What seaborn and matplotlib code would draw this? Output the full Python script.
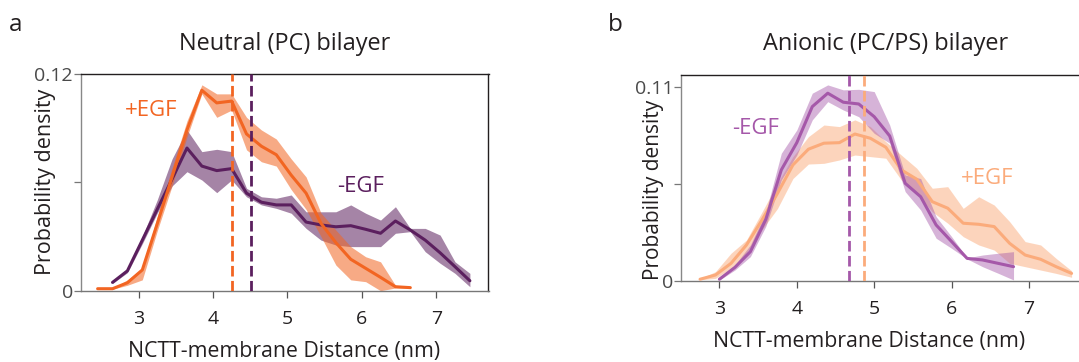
import numpy as np
import pandas as pd
import matplotlib
matplotlib.use("Agg")
import matplotlib.pyplot as plt
import seaborn as sns

# ---------------- data ----------------
# Panel a: Neutral (PC) bilayer
a_plus_x = [2.45, 2.65, 2.85, 3.05, 3.25, 3.45, 3.65, 3.85, 4.05, 4.25, 4.45,
            4.65, 4.85, 5.05, 5.25, 5.45, 5.65, 5.85, 6.05, 6.25, 6.45, 6.65]
a_plus_mean = [0.0011, 0.0011, 0.0044, 0.0115, 0.037, 0.063, 0.089, 0.111, 0.104, 0.105, 0.0868,
               0.080, 0.0753, 0.064, 0.054, 0.0373, 0.0266, 0.0174, 0.0124, 0.0074, 0.0022, 0.0017]
a_plus_lo = [0.0008, 0.0008, 0.003, 0.006, 0.033, 0.058, 0.085, 0.109, 0.096, 0.100, 0.078,
             0.0714, 0.069, 0.056, 0.045, 0.030, 0.0142, 0.006, 0.005, 0.0, 0.0015, 0.0012]
a_plus_hi = [0.0014, 0.0014, 0.006, 0.0124, 0.041, 0.068, 0.094, 0.114, 0.109, 0.109, 0.096,
             0.089, 0.084, 0.073, 0.063, 0.043, 0.0336, 0.0244, 0.0188, 0.016, 0.003, 0.0022]

a_minus_x = [2.65, 2.85, 3.05, 3.25, 3.45, 3.65, 3.85, 4.05, 4.25, 4.45, 4.65, 4.85, 5.05,
             5.25, 5.45, 5.65, 5.85, 6.05, 6.25, 6.45, 6.65, 6.85, 7.05, 7.25, 7.45]
a_minus_mean = [0.0046, 0.011, 0.028, 0.045, 0.0618, 0.079, 0.069, 0.0665, 0.0676, 0.054, 0.049, 0.0475, 0.0475,
                0.038, 0.0364, 0.0354, 0.036, 0.034, 0.0318, 0.0386, 0.0336, 0.028, 0.021, 0.0133, 0.0055]
a_minus_lo = [0.0040, 0.0100, 0.026, 0.0429, 0.058, 0.0659, 0.0613, 0.0543, 0.0613, 0.052, 0.0475, 0.0456, 0.0429,
              0.0345, 0.028, 0.0253, 0.0244, 0.0244, 0.0244, 0.0318, 0.0327, 0.0216, 0.0152, 0.0096, 0.0022]
a_minus_hi = [0.0052, 0.0120, 0.030, 0.0502, 0.073, 0.089, 0.077, 0.0783, 0.077, 0.0567, 0.052, 0.0512, 0.053,
              0.0437, 0.0437, 0.0437, 0.0475, 0.0429, 0.0391, 0.0465, 0.0345, 0.0345, 0.0308, 0.016, 0.0096]
a_plus_median = 4.26
a_minus_median = 4.51

# Panel b: Anionic (PC/PS) bilayer
b_plus_x = [2.75, 2.95, 3.15, 3.35, 3.55, 3.75, 3.95, 4.15, 4.35, 4.55, 4.75, 4.95, 5.15,
            5.35, 5.55, 5.75, 5.95, 6.15, 6.35, 6.55, 6.75, 6.95, 7.15, 7.35, 7.55]
b_plus_mean = [0.001, 0.0034, 0.010, 0.0204, 0.0345, 0.0496, 0.0657, 0.0746, 0.078, 0.0783, 0.0832, 0.0808, 0.0757,
               0.0629, 0.0576, 0.0449, 0.0412, 0.0327, 0.0321, 0.0308, 0.0213, 0.0147, 0.0123, 0.0081, 0.0043]
b_plus_lo = [0.0007, 0.0015, 0.0072, 0.0157, 0.029, 0.041, 0.058, 0.0662, 0.0666, 0.0685, 0.0713, 0.0704, 0.0695,
             0.0572, 0.0496, 0.0392, 0.0327, 0.0251, 0.0204, 0.0175, 0.010, 0.0081, 0.0062, 0.0043, 0.0021]
b_plus_hi = [0.0013, 0.0053, 0.0157, 0.0232, 0.039, 0.0553, 0.0704, 0.0817, 0.0883, 0.0874, 0.0912, 0.0874, 0.0789,
             0.0713, 0.0638, 0.0525, 0.0534, 0.0411, 0.0477, 0.043, 0.0336, 0.0223, 0.0204, 0.0128, 0.0058]

b_minus_x = [3.0, 3.2, 3.4, 3.6, 3.8, 4.0, 4.2, 4.4, 4.6, 4.8, 5.0, 5.2, 5.4, 5.6, 5.8, 6.0, 6.2, 6.4, 6.6, 6.8]
b_minus_mean = [0.001, 0.0077, 0.0166, 0.0349, 0.0629, 0.0783, 0.0987, 0.1063, 0.1012, 0.1002,
                0.093, 0.0821, 0.0553, 0.0477, 0.0317, 0.0223, 0.0128, 0.0119, 0.010, 0.0081]
b_minus_lo = [0.0005, 0.0062, 0.0138, 0.031, 0.0572, 0.0713, 0.0912, 0.1015, 0.0968, 0.093,
              0.0836, 0.078, 0.0506, 0.0402, 0.0242, 0.0185, 0.0125, 0.0081, 0.0044, 0.0006]
b_minus_hi = [0.0015, 0.0091, 0.0204, 0.039, 0.0723, 0.0855, 0.1063, 0.111, 0.1082, 0.1085,
              0.1072, 0.0883, 0.060, 0.058, 0.0364, 0.0251, 0.0131, 0.0147, 0.0157, 0.0166]
b_minus_median = 4.676
b_plus_median = 4.874

x_ticks = [3, 4, 5, 6, 7]
a_yticks = [0, 0.06, 0.12]
a_ylabels = ["0", "", "0.12"]
b_yticks = [0, 0.055, 0.11]
b_ylabels = ["0", "", "0.11"]

# ---------------- style ----------------
sns.set_theme(style="white")
FONT = ["Open Sans", "DejaVu Sans"]
plt.rcParams["font.family"] = FONT
TXT = "#231f20"

C_A_PLUS = "#f26522"
C_A_MINUS = "#5b1f5e"
C_B_PLUS = "#fbab7b"
C_B_MINUS = "#a558a9"

fig = plt.figure(figsize=(10.79, 3.62), dpi=100)
W, H = 1079.0, 362.0
ax_a = fig.add_axes([80.5 / W, 1 - 290.7 / H, 408 / W, 216.7 / H])
ax_b = fig.add_axes([680.7 / W, 1 - 281 / H, 402.5 / W, 206 / H])


def draw(ax, x, mean, lo, hi, line_c, band_c, band_alpha, lw, label):
    df = pd.DataFrame({"x": x, "y": mean})
    ax.fill_between(x, lo, hi, color=band_c, alpha=band_alpha, linewidth=0, zorder=1)
    sns.lineplot(data=df, x="x", y="y", ax=ax, color=line_c, linewidth=lw,
                 label=label, legend=False, zorder=3)


draw(ax_a, a_minus_x, a_minus_mean, a_minus_lo, a_minus_hi, C_A_MINUS, C_A_MINUS, 0.55, 2.2, "-EGF")
draw(ax_a, a_plus_x, a_plus_mean, a_plus_lo, a_plus_hi, C_A_PLUS, C_A_PLUS, 0.55, 2.2, "+EGF")
ax_a.axvline(a_plus_median, color=C_A_PLUS, lw=2.0, ls=(0, (3.8, 1.6)), zorder=4)
ax_a.axvline(a_minus_median, color=C_A_MINUS, lw=2.0, ls=(0, (3.8, 1.6)), zorder=4)

draw(ax_b, b_plus_x, b_plus_mean, b_plus_lo, b_plus_hi, C_B_PLUS, C_B_PLUS, 0.5, 2.2, "+EGF")
draw(ax_b, b_minus_x, b_minus_mean, b_minus_lo, b_minus_hi, C_B_MINUS, C_B_MINUS, 0.45, 2.2, "-EGF")
ax_b.axvline(b_minus_median, color=C_B_MINUS, lw=2.0, ls=(0, (3.8, 1.6)), zorder=4)
ax_b.axvline(b_plus_median, color=C_B_PLUS, lw=2.0, ls=(0, (3.8, 1.6)), zorder=4)

ax_a.set_xlim(2.22, 7.70)
ax_a.set_ylim(0, 0.12)
ax_b.set_xlim(2.50, 7.70)
ax_b.set_ylim(0, 0.1166)

FS_TICK = 14
FS_XLAB = 15.3
for ax, yt, yl in [(ax_a, a_yticks, a_ylabels), (ax_b, b_yticks, b_ylabels)]:
    ax.set_xticks(x_ticks)
    ax.set_xticklabels([str(t) for t in x_ticks])
    ax.set_yticks(yt)
    ax.set_yticklabels(yl)
    ax.tick_params(axis="both", which="major", direction="out", length=5, width=0.9,
                   labelsize=FS_TICK, bottom=True, left=True)
    ax.tick_params(axis="x", pad=9, colors="#555555", labelcolor=TXT)
    ax.tick_params(axis="y", pad=0.5, colors="#777777", labelcolor="#4a4a4a")
    for s in ["top", "right"]:
        ax.spines[s].set_color(TXT)
        ax.spines[s].set_linewidth(1.0)
    ax.spines["left"].set_color("#888888")
    ax.spines["bottom"].set_color("#777777")
    ax.spines["left"].set_linewidth(1.0)
    ax.spines["bottom"].set_linewidth(1.0)
    ax.set_xlabel("NCTT-membrane Distance (nm)", fontsize=FS_XLAB, color=TXT)
    ax.yaxis.label.set_va("center")
    ax.xaxis.label.set_va("center")
    ax.grid(False)

ax_a.set_ylabel("Probability density", fontsize=15.5, color=TXT)
ax_b.set_ylabel("Probability density", fontsize=15.0, color=TXT)
for ax in (ax_a, ax_b):
    ax.yaxis.label.set_va("center")

ax_a.xaxis.set_label_coords(0.5, (290.7 - 352) / 216.7)
ax_a.yaxis.set_label_coords((46 - 80.5) / 408, 0.5)
ax_b.xaxis.set_label_coords((869 - 680.7) / 402.5, (281 - 341.7) / 206)
ax_b.yaxis.set_label_coords((653.5 - 680.7) / 402.5, (281 - 190) / 206)

# series labels
ax_a.text(3.17, 0.0998, "+EGF", color=C_A_PLUS, fontsize=16, ha="center", va="center")
ax_a.text(5.975, 0.0577, "-EGF", color=C_A_MINUS, fontsize=16, ha="center", va="center")
ax_b.text(3.47, 0.0865, "-EGF", color=C_B_MINUS, fontsize=16, ha="center", va="center")
ax_b.text(6.46, 0.0578, "+EGF", color=C_B_PLUS, fontsize=16, ha="center", va="center")

# titles and panel letters
fig.text(284.5 / W, 1 - 50 / H, "Neutral (PC) bilayer", fontsize=16.9, color=TXT,
         ha="center", va="baseline")
fig.text(886 / W, 1 - 50 / H, "Anionic (PC/PS) bilayer", fontsize=16.9, color=TXT,
         ha="center", va="baseline")
fig.text(15.5 / W, 1 - 25 / H, "a", fontsize=17.5, color=TXT, ha="center", va="center")
fig.text(615 / W, 1 - 25 / H, "b", fontsize=17.5, color=TXT, ha="center", va="center")

fig.savefig("out.png", dpi=100)
